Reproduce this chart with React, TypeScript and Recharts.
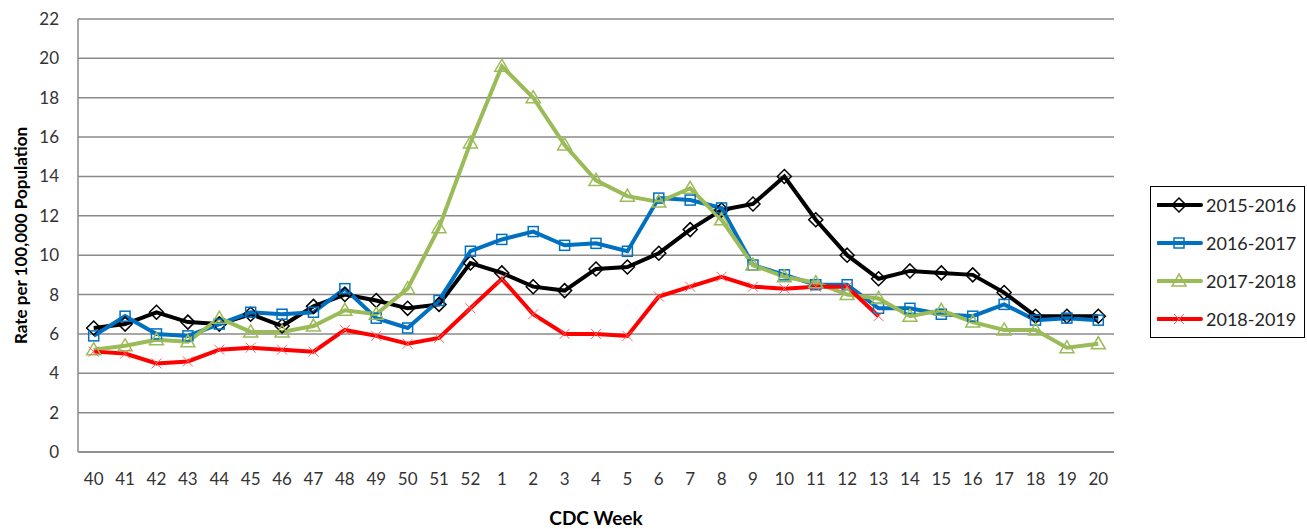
import React from 'react';
import { LineChart, Line, XAxis, YAxis, CartesianGrid } from 'recharts';

const weeks = [
  '40', '41', '42', '43', '44', '45', '46', '47', '48', '49', '50', '51', '52',
  '1', '2', '3', '4', '5', '6', '7', '8', '9', '10', '11', '12', '13', '14', '15', '16', '17', '18', '19', '20',
];

const season1516 = [6.3, 6.5, 7.1, 6.6, 6.5, 7.0, 6.4, 7.4, 8.0, 7.7, 7.3, 7.5, 9.6, 9.1, 8.4, 8.2, 9.3, 9.4, 10.1, 11.3, 12.3, 12.6, 14.0, 11.8, 10.0, 8.8, 9.2, 9.1, 9.0, 8.1, 6.9, 6.9, 6.9];
const season1617 = [5.9, 6.9, 6.0, 5.9, 6.5, 7.1, 7.0, 7.1, 8.3, 6.8, 6.3, 7.7, 10.2, 10.8, 11.2, 10.5, 10.6, 10.2, 12.9, 12.8, 12.4, 9.5, 9.0, 8.5, 8.5, 7.3, 7.3, 7.0, 6.9, 7.5, 6.7, 6.8, 6.7];
const season1718 = [5.2, 5.4, 5.7, 5.6, 6.8, 6.1, 6.1, 6.4, 7.2, 7.0, 8.3, 11.4, 15.7, 19.6, 18.0, 15.6, 13.8, 13.0, 12.7, 13.4, 11.8, 9.5, 8.9, 8.6, 8.0, 7.8, 6.9, 7.2, 6.6, 6.2, 6.2, 5.3, 5.5];
const season1819 = [5.1, 5.0, 4.5, 4.6, 5.2, 5.3, 5.2, 5.1, 6.2, 5.9, 5.5, 5.8, 7.3, 8.8, 7.0, 6.0, 6.0, 5.9, 7.9, 8.4, 8.9, 8.4, 8.3, 8.4, 8.4, 6.9];

const yTicks = [0, 2, 4, 6, 8, 10, 12, 14, 16, 18, 20, 22];

const series = [
  { key: 's1516', name: '2015-2016', color: '#000000', marker: 'diamond' },
  { key: 's1617', name: '2016-2017', color: '#0070C0', marker: 'square' },
  { key: 's1718', name: '2017-2018', color: '#9BBB59', marker: 'triangle' },
  { key: 's1819', name: '2018-2019', color: '#FF0000', marker: 'cross' },
];

const data = weeks.map((week, i) => ({
  week,
  s1516: season1516[i],
  s1617: season1617[i],
  s1718: season1718[i],
  s1819: i < season1819.length ? season1819[i] : null,
}));

const FONT = 'Lato, "Open Sans", sans-serif';
const GRID = '#8a8a8a';

// marker glyphs, shared by the plot and the legend
const marker = (kind: string, cx: number, cy: number, color: string, key?: any) => {
  if (kind === 'diamond') {
    return (
      <path key={key} d={`M${cx},${cy - 7}L${cx + 7},${cy}L${cx},${cy + 7}L${cx - 7},${cy}Z`}
        fill="none" stroke={color} strokeWidth={1.5} />
    );
  }
  if (kind === 'square') {
    return <rect key={key} x={cx - 5} y={cy - 5} width={10} height={10} fill="none" stroke={color} strokeWidth={1.5} />;
  }
  if (kind === 'triangle') {
    return (
      <path key={key} d={`M${cx},${cy - 7}L${cx + 7},${cy + 5}L${cx - 7},${cy + 5}Z`}
        fill="none" stroke={color} strokeWidth={1.5} />
    );
  }
  return (
    <path key={key} d={`M${cx - 5},${cy - 5}L${cx + 5},${cy + 5}M${cx + 5},${cy - 5}L${cx - 5},${cy + 5}`}
      stroke="#ff6060" strokeWidth={1} />
  );
};

const makeDot = (kind: string, color: string) => (props: any) => {
  const { cx, cy, index, value } = props;
  if (cx == null || cy == null || value == null) return <g key={index} />;
  return marker(kind, cx, cy, color, index);
};

const YLabel = (props: any) => {
  const { viewBox } = props;
  const x = viewBox.x + 9;
  const y = viewBox.y + viewBox.height / 2;
  return (
    <text x={x} y={y} transform={`rotate(-90 ${x} ${y})`} textAnchor="middle"
      fontFamily={FONT} fontWeight="bold" fontSize={17} fill="#000">
      Rate per 100,000 Population
    </text>
  );
};

const XLabel = (props: any) => {
  const { viewBox } = props;
  return (
    <text x={viewBox.x + viewBox.width / 2} y={viewBox.y + viewBox.height + 33} textAnchor="middle"
      fontFamily={FONT} fontWeight="bold" fontSize={19} fill="#000">
      CDC Week
    </text>
  );
};

const SeasonLegend = () => (
  <div style={{
    position: 'absolute', left: 1150, top: 186, width: 155, height: 152,
    border: '1.5px solid #000', boxSizing: 'border-box', background: '#fff',
  }}>
    {series.map((s, i) => (
      <div key={s.key} style={{
        position: 'absolute', left: 6, top: 18 + i * 38 - 12, height: 24,
        display: 'flex', alignItems: 'center',
      }}>
        <svg width={46} height={24}>
          <line x1={1} y1={12} x2={44} y2={12} stroke={s.color} strokeWidth={4} strokeLinecap="round" />
          {marker(s.marker, 22, 12, s.color)}
        </svg>
        <span style={{ fontFamily: FONT, fontSize: 18, color: '#262626', marginLeft: 3 }}>{s.name}</span>
      </div>
    ))}
  </div>
);

export default function App() {
  return (
    <div style={{ position: 'absolute', left: 0, top: 0, width: 1307, height: 529, background: '#fff' }}>
      <LineChart width={1307} height={529} data={data} margin={{ top: 19, right: 193, bottom: 37, left: 18 }}>
        <CartesianGrid vertical={false} stroke={GRID} strokeWidth={1.5} />
        <XAxis
          dataKey="week"
          interval={0}
          height={40}
          padding={{ left: 15.7, right: 15.7 }}
          tickLine={false}
          tickSize={0}
          tickMargin={21}
          axisLine={{ stroke: GRID, strokeWidth: 1.5 }}
          tick={{ fontFamily: FONT, fontSize: 17, fill: '#333' }}
          label={<XLabel />}
        />
        <YAxis
          domain={[0, 22]}
          ticks={yTicks}
          width={60}
          tickLine={false}
          tickSize={0}
          tickMargin={19}
          axisLine={{ stroke: GRID, strokeWidth: 1.5 }}
          tick={{ fontFamily: FONT, fontSize: 17, fill: '#333' }}
          label={<YLabel />}
        />
        {series.map((s) => (
          <Line
            key={s.key}
            dataKey={s.key}
            name={s.name}
            type="linear"
            stroke={s.color}
            strokeWidth={4}
            dot={makeDot(s.marker, s.color)}
            activeDot={false}
            connectNulls={false}
            isAnimationActive={false}
          />
        ))}
      </LineChart>
      <SeasonLegend />
    </div>
  );
}
